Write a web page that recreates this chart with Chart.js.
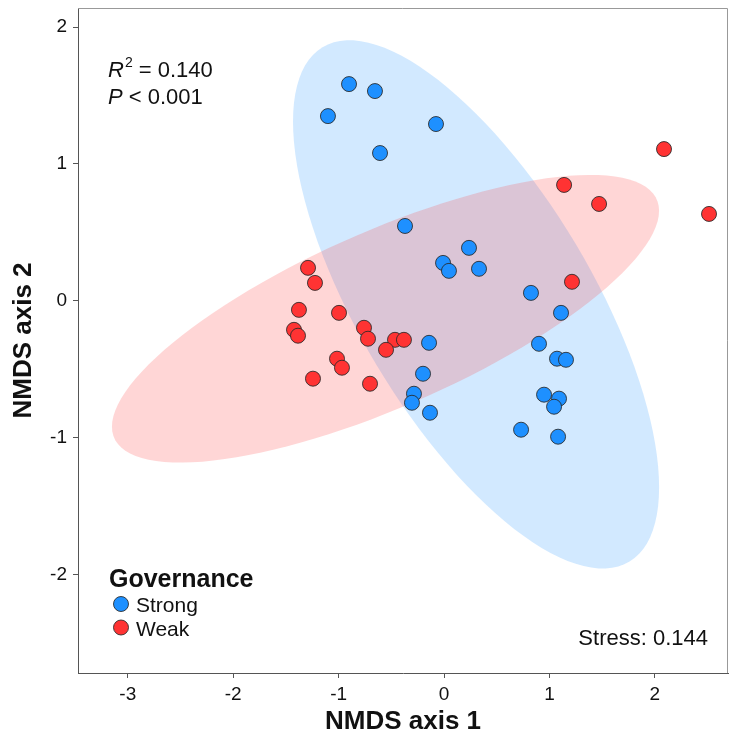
<!DOCTYPE html>
<html>
<head>
<meta charset="utf-8">
<script src="https://cdn.jsdelivr.net/npm/chart.js@4"></script>
<style>
  html, body { margin: 0; padding: 0; background: #fff; }
  #wrap { width: 729px; height: 737px; }
</style>
</head>
<body>
<div id="wrap"><canvas id="nmds" width="729" height="737"></canvas></div>
<script>
// NMDS ordination: site scores by governance group, with 95% ellipses.
var strongX = [-0.901, -0.655, -1.101, -0.076, -0.607, -0.370, 0.237, -0.009, 0.047, 0.332,
  0.825, 1.110, 0.901, 1.072, 1.157, 0.949, 1.091, 1.044, 0.731, 1.082,
  -0.142, -0.199, -0.285, -0.304, -0.133];
var strongY = [1.584, 1.533, 1.350, 1.292, 1.080, 0.547, 0.387, 0.277, 0.219, 0.234,
  0.058, -0.088, -0.314, -0.423, -0.431, -0.686, -0.715, -0.774, -0.942, -0.993,
  -0.307, -0.533, -0.679, -0.745, -0.818];

var weakX = [-1.290, -1.224, -1.376, -0.996, -1.423, -1.385, -0.759, -0.721, -0.465, -0.380,
  -0.550, -1.015, -0.968, -1.243, -0.702, 2.087, 1.139, 1.471, 2.514, 1.214];
var weakY = [0.241, 0.131, -0.066, -0.088, -0.212, -0.255, -0.197, -0.277, -0.285, -0.285,
  -0.358, -0.423, -0.489, -0.569, -0.606, 1.109, 0.847, 0.708, 0.635, 0.139];

// ellipse: centre and shape matrix [xx, yy, xy] in data units
var strongEllipse = [0.304, -0.026, 3.015, 3.727, -2.320];
var weakEllipse = [-0.555, -0.131, 6.734, 1.105, 2.046];

var xTicks = [-3, -2, -1, 0, 1, 2];
var yTicks = [-2, -1, 0, 1, 2];

var groupNames = ['Strong', 'Weak'];
var blue = '#1E90FF';
var red = '#FF3333';

function toPts(xs, ys) {
  return xs.map(function (x, i) { return { x: x, y: ys[i] }; });
}

var FONT = '"Liberation Sans", Arial, sans-serif';

var ellipsePlugin = {
  id: 'ellipses',
  beforeDatasetsDraw: function (chart) {
    var ctx = chart.ctx, xs = chart.scales.x, ys = chart.scales.y, a = chart.chartArea;
    var list = [[strongEllipse, 'rgba(30,144,255,0.2)'], [weakEllipse, 'rgba(255,48,48,0.2)']];
    ctx.save();
    ctx.beginPath();
    ctx.rect(a.left, a.top, a.right - a.left, a.bottom - a.top);
    ctx.clip();
    list.forEach(function (it) {
      var e = it[0];
      var l11 = Math.sqrt(e[2]), l21 = e[4] / l11, l22 = Math.sqrt(e[3] - l21 * l21);
      ctx.beginPath();
      for (var k = 0; k <= 120; k++) {
        var t = k / 120 * Math.PI * 2;
        var px = xs.getPixelForValue(e[0] + l11 * Math.cos(t));
        var py = ys.getPixelForValue(e[1] + l21 * Math.cos(t) + l22 * Math.sin(t));
        if (k === 0) ctx.moveTo(px, py); else ctx.lineTo(px, py);
      }
      ctx.closePath();
      ctx.fillStyle = it[1];
      ctx.fill();
    });
    ctx.restore();
  }
};

var framePlugin = {
  id: 'frame',
  afterDraw: function (chart) {
    var ctx = chart.ctx, a = chart.chartArea;
    ctx.save();
    ctx.strokeStyle = '#999';
    ctx.lineWidth = 1;
    ctx.beginPath();
    ctx.moveTo(a.left, a.top + 0.5);
    ctx.lineTo(a.right - 0.5, a.top + 0.5);
    ctx.lineTo(a.right - 0.5, a.bottom);
    ctx.stroke();

    ctx.fillStyle = '#111';
    ctx.textBaseline = 'alphabetic';
    ctx.textAlign = 'left';
    // R2 and P
    var x0 = a.left + 30;
    ctx.font = 'italic 22px ' + FONT;
    ctx.fillText('R', x0, a.top + 69);
    var w = ctx.measureText('R').width;
    ctx.font = '14px ' + FONT;
    ctx.fillText('2', x0 + w + 1, a.top + 59);
    var w2 = ctx.measureText('2').width;
    ctx.font = '22px ' + FONT;
    ctx.fillText(' = 0.140', x0 + w + w2 + 1, a.top + 69);
    ctx.font = 'italic 22px ' + FONT;
    ctx.fillText('P', x0, a.top + 96);
    var wp = ctx.measureText('P').width;
    ctx.font = '22px ' + FONT;
    ctx.fillText(' < 0.001', x0 + wp, a.top + 96);

    // stress
    ctx.textAlign = 'right';
    ctx.fillText('Stress: 0.144', a.right - 20, a.bottom - 28);

    // legend
    ctx.textAlign = 'left';
    ctx.font = 'bold 25px ' + FONT;
    ctx.fillText('Governance', x0 + 1, a.bottom - 86);
    var cols = [blue, red];
    groupNames.forEach(function (name, i) {
      var cy = a.bottom - 69 + i * 23.5;
      ctx.beginPath();
      ctx.arc(x0 + 13, cy, 7.5, 0, Math.PI * 2);
      ctx.fillStyle = cols[i];
      ctx.fill();
      ctx.strokeStyle = 'rgba(40,40,40,0.85)';
      ctx.lineWidth = 1;
      ctx.stroke();
      ctx.fillStyle = '#111';
      ctx.font = '21px ' + FONT;
      ctx.fillText(name, x0 + 28, cy + 8);
    });
    ctx.restore();
  }
};

new Chart(document.getElementById('nmds'), {
  type: 'scatter',
  data: {
    datasets: [
      {
        label: 'Strong',
        data: toPts(strongX, strongY),
        backgroundColor: blue,
        borderColor: 'rgba(40,40,40,0.85)',
        borderWidth: 1,
        pointRadius: 7.5,
        pointHoverRadius: 7.5
      },
      {
        label: 'Weak',
        data: toPts(weakX, weakY),
        backgroundColor: red,
        borderColor: 'rgba(40,40,40,0.85)',
        borderWidth: 1,
        pointRadius: 7.5,
        pointHoverRadius: 7.5
      }
    ]
  },
  options: {
    responsive: false,
    animation: false,
    layout: { autoPadding: false, padding: { top: 8, right: 1, left: 0, bottom: 0 } },
    plugins: { legend: { display: false }, tooltip: { enabled: false } },
    scales: {
      x: {
        type: 'linear',
        min: -3.472,
        max: 2.694,
        afterFit: function (s) { s.height = 64; s.paddingLeft = 0; s.paddingRight = 0; },
        afterBuildTicks: function (s) { s.ticks = xTicks.map(function (v) { return { value: v }; }); },
        grid: { drawOnChartArea: false, drawTicks: true, tickLength: 5, color: '#555' },
        border: { display: true, color: '#555' },
        ticks: { color: '#111', font: { family: FONT, size: 19 }, padding: 5, maxRotation: 0 },
        title: { display: true, text: 'NMDS axis 1', color: '#111', font: { family: FONT, size: 26, weight: 'bold' }, padding: { top: 0, bottom: 0 } }
      },
      y: {
        type: 'linear',
        min: -2.72,
        max: 2.14,
        afterFit: function (s) { s.width = 78; s.paddingTop = 0; s.paddingBottom = 0; },
        afterBuildTicks: function (s) { s.ticks = yTicks.map(function (v) { return { value: v }; }); },
        grid: { drawOnChartArea: false, drawTicks: true, tickLength: 5, color: '#555' },
        border: { display: true, color: '#555' },
        ticks: { color: '#111', font: { family: FONT, size: 19 }, padding: 6 },
        title: { display: true, text: 'NMDS axis 2', color: '#111', font: { family: FONT, size: 26, weight: 'bold' }, padding: { top: 8, bottom: 0 } }
      }
    }
  },
  plugins: [ellipsePlugin, framePlugin]
});
</script>
</body>
</html>
